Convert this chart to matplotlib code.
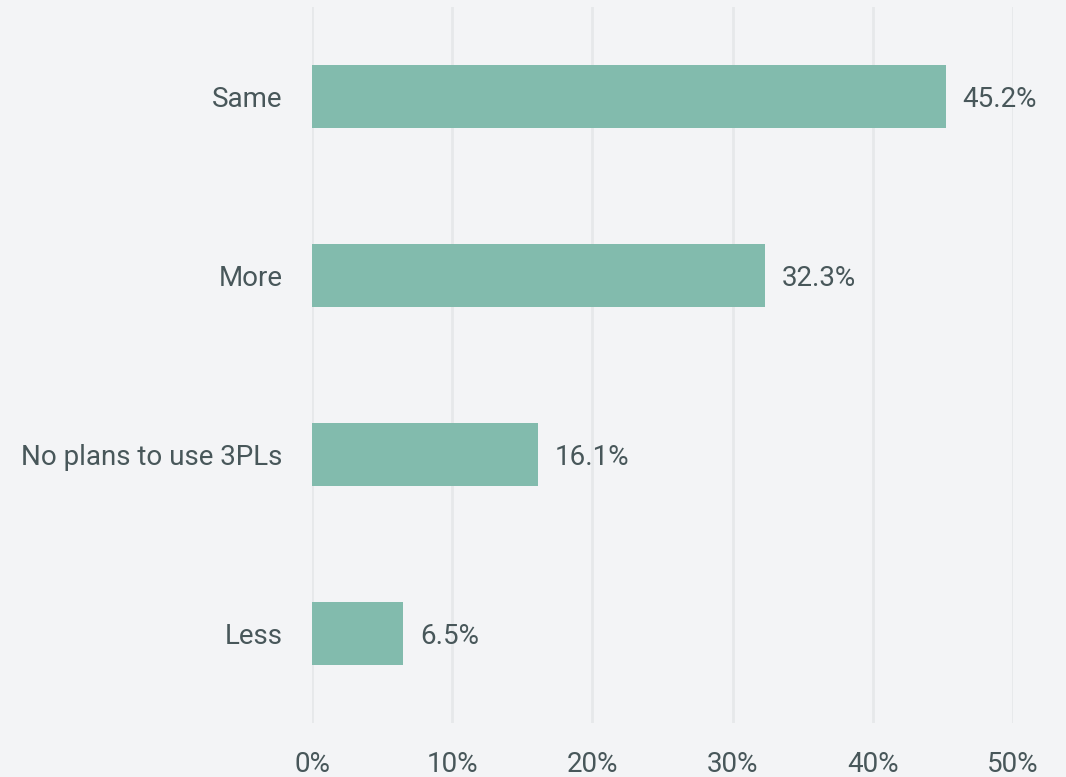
import matplotlib.pyplot as plt

categories = ['Same', 'More', 'No plans to use 3PLs', 'Less']
values = [45.2, 32.3, 16.1, 6.5]
xticks = [0, 10, 20, 30, 40, 50]

bg = '#f3f4f6'
bar_color = '#82bbad'
text_color = '#48575a'
grid_color = '#e6e8ea'

plt.rcParams['font.family'] = ['Roboto', 'DejaVu Sans']

fig = plt.figure(figsize=(10.66, 7.77), dpi=100, facecolor=bg)
ax = fig.add_axes([0.2927, 0.0695, 0.6576, 0.9215])
ax.set_facecolor(bg)

pos = list(range(len(categories)))
ax.barh(pos, values, height=0.35, color=bar_color, zorder=2)

for p, v in zip(pos, values):
    ax.text(v + 1.2, p, f'{v}%', va='center_baseline', ha='left', fontsize=20,
            color=text_color, clip_on=False)

ax.set_xlim(0, 50)
ax.set_ylim(3.5, -0.5)
ax.set_xticks(xticks)
ax.set_xticklabels([f'{t}%' for t in xticks])
ax.set_yticks(pos)
ax.set_yticklabels(categories, va='center_baseline')
ax.tick_params(axis='x', length=0, pad=20, labelsize=20, labelcolor=text_color)
ax.tick_params(axis='y', length=0, pad=21, labelsize=20, labelcolor=text_color)

ax.grid(axis='x', color=grid_color, linewidth=2, zorder=0)
ax.set_axisbelow(True)
for s in ax.spines.values():
    s.set_visible(False)

fig.savefig('out.png', dpi=100, facecolor=bg)
